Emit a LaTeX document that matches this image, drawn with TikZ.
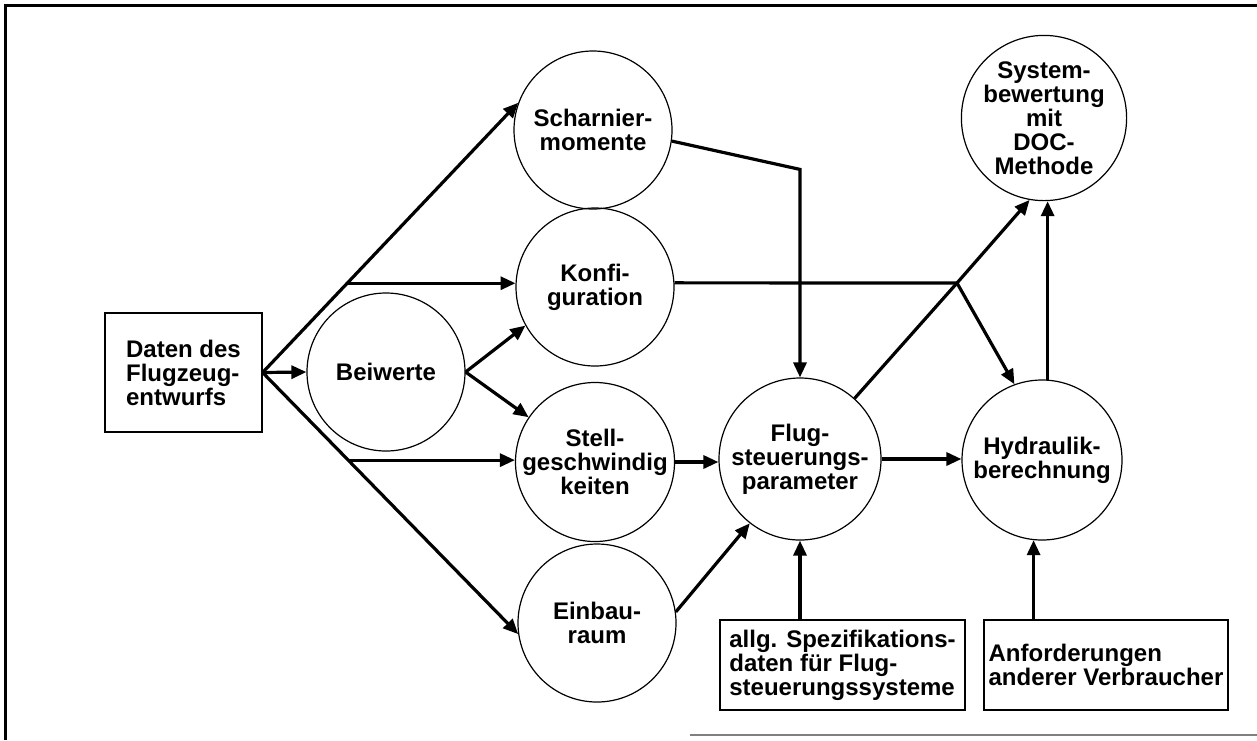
\documentclass[tikz,border=0pt]{standalone}
\usepackage{fontspec}
\setmainfont{Liberation Sans}
\usetikzlibrary{arrows.meta,calc}
\begin{document}
\begin{tikzpicture}[x=1pt,y=-1pt,
  txt/.style={font=\fontsize{24}{24}\selectfont\bfseries},
  circ/.style={txt,draw,circle,line width=1.2pt,minimum size=158pt,inner sep=0pt,align=center},
  rbox/.style={txt,draw,rectangle,line width=1.2pt,inner sep=0pt},
  conn/.style={line width=3.2pt},
  arr/.style={conn,-{Triangle[length=15pt,width=13pt]}}]
\useasboundingbox (0,0) rectangle (1257,740);
% frame
\draw[line width=3pt] (5.5,740) -- (5.5,5.5) -- (1257,5.5);
\draw[line width=1.2pt,black!50] (690,735) -- (1257,735);
% nodes
\node[circ] (sch) at (593,130) {Scharnier-\\momente};
\node[circ] (kon) at (595,287) {Konfi-\\guration};
\node[circ] (bei) at (386,372) {Beiwerte};
\node[circ] (ste) at (595,462) {Stell-\\geschwindig\\keiten};
\node[circ] (ein) at (597,623) {Einbau-\\raum};
\node[circ,minimum size=162pt] (flu) at (800,459) {Flug-\\steuerungs-\\parameter};
\node[circ,minimum size=160pt] (hyd) at (1042,460) {Hydraulik-\\berechnung};
\node[circ,minimum size=160pt] (sys) at (1044,118) {System-\\bewertung\\mit\\DOC-\\Methode};
\node[rbox,minimum width=157pt,minimum height=119pt,align=left] (dat) at (183.5,372.5) {Daten des\\Flugzeug-\\entwurfs};
\node[rbox,minimum width=245pt,minimum height=90pt,align=left] (spz) at (842.5,665) {allg. Spezifikations-\\daten für Flug-\\steuerungssysteme};
\node[rbox,minimum width=244pt,minimum height=90pt,align=left] (anf) at (1106,665) {Anforderungen\\anderer Verbraucher};
% connectors
\coordinate (hub) at (dat.east);
\draw[arr] (hub) -- (bei.west);
\draw[arr] (hub) -- (sch.160);
\draw[arr] (hub) -- (ein.188);
\coordinate (bu) at ($(hub)!0.331!(sch.160)$);
\coordinate (bd) at ($(hub)!0.335!(ein.188)$);
\draw[arr] (bu) -- (bu -| kon.177);
\draw[arr] (bd) -- (bd -| ste.west);
\draw[arr] (bei.east) -- (kon.209);
\draw[arr] (bei.east) -- (ste.146);
\draw[arr] (ste.east) -- (ste.east -| flu.west);
\path (flu.north) ++(0,-208) coordinate (skn);
\draw[arr] (sch.-8) -- (skn) -- (flu.north);
\coordinate (jn) at (957,283);
\draw[conn] (kon.3) -- (jn);
\draw[arr] (jn) -- (hyd.110);
\draw[arr] (flu.48) -- (jn) -- (sys.260);
\draw[arr] (flu.east) -- (flu.east -| hyd.west);
\draw[arr] (hyd.86) -- (hyd.86 |- sys.south);
\draw[arr] (ein.8) -- (flu.232);
\draw[arr] (spz.north -| flu.south) -- (flu.south);
\draw[arr] (anf.north -| hyd.264) -- (hyd.264);
\end{tikzpicture}
\end{document}
